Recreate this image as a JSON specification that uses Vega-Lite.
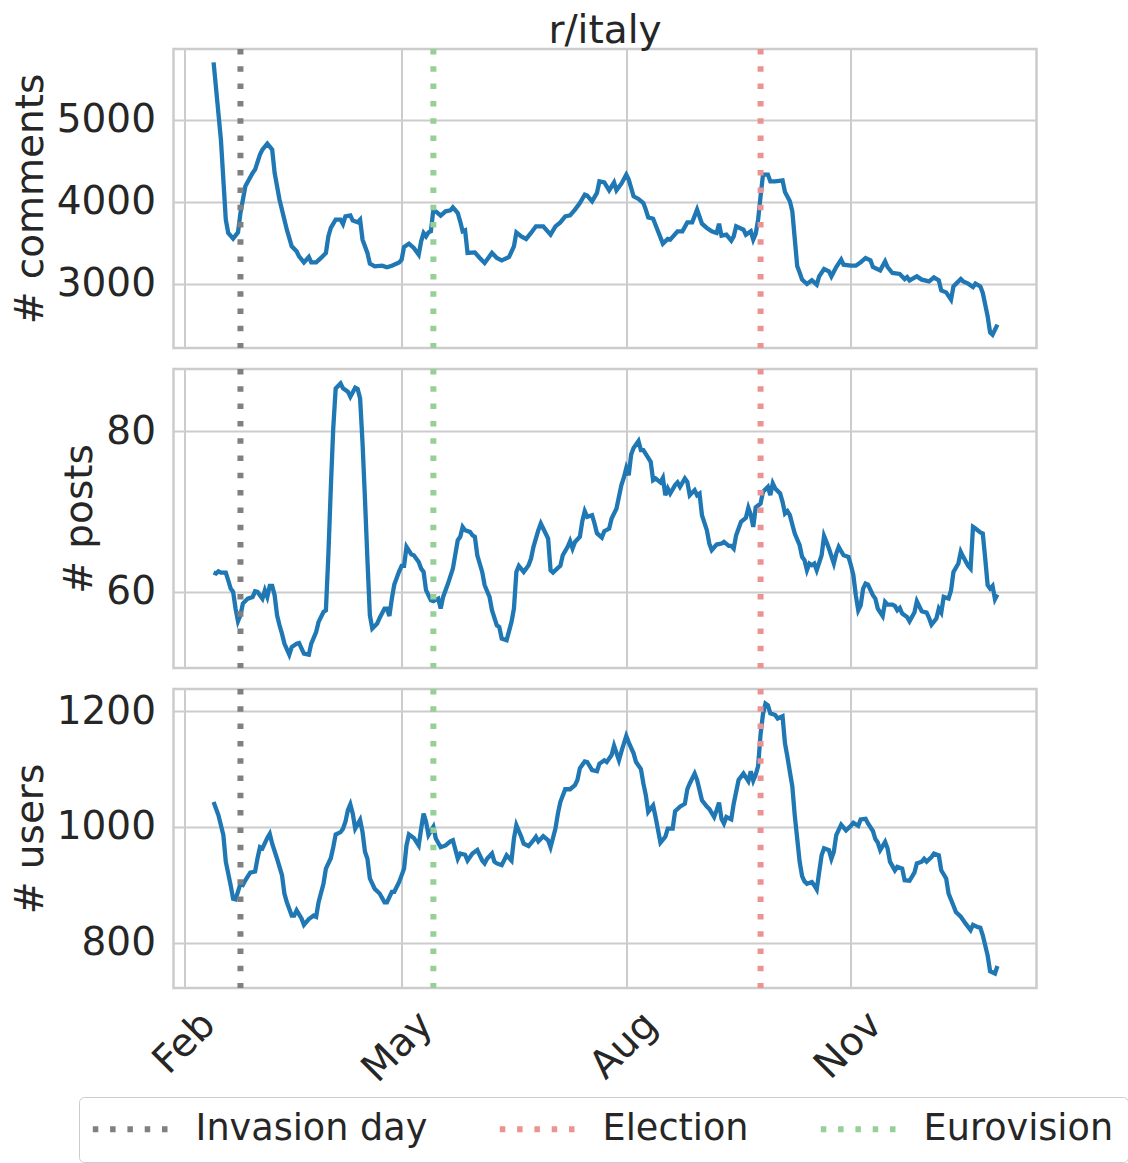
{
  "$schema": "https://vega.github.io/schema/vega-lite/v6.json",
  "background": "white",
  "padding": {"left": 9.5, "top": 10, "right": 0, "bottom": 0},
  "spacing": 11,
  "resolve": {"scale": {"x": "independent", "y": "independent", "color": "shared"}},
  "config": {
    "font": "DejaVu Sans",
    "view": {"stroke": "#cccccc", "strokeWidth": 2.5},
    "axis": {"gridColor": "#cccccc", "gridWidth": 2, "domain": false, "ticks": false, "tickSize": 0,
      "labelFontSize": 39, "labelColor": "#262626", "titleFontSize": 39, "titleColor": "#262626",
      "titleFontWeight": "normal", "labelPadding": 18, "titlePadding": 6, "labelFont": "DejaVu Sans", "titleFont": "DejaVu Sans"},
    "legend": {"orient": "none", "legendX": -94.5, "legendY": 1048, "direction": "horizontal",
      "symbolType": "M-3,0H3", "symbolSize": 625, "symbolStrokeWidth": 6, "symbolDash": [5.5, 11.8], "symbolOpacity": 1, "symbolOffset": 19,
      "labelFontSize": 36.6, "labelColor": "#262626", "labelFont": "DejaVu Sans", "labelOffset": 47, "labelLimit": 600, "columnPadding": 59,
      "strokeColor": "#cccccc", "fillColor": "white", "cornerRadius": 5, "padding": 14}
  },
  "datasets": {
    "events": [
      {"date": "2022-02-24", "event": "Invasion day"},
      {"date": "2022-09-25", "event": "Election"},
      {"date": "2022-05-14", "event": "Eurovision"}
    ],
    "comments": [
      {"date":"2022-02-13","value":5697},{"date":"2022-02-16","value":4757},{"date":"2022-02-18","value":3783},{"date":"2022-02-19","value":3621},{"date":"2022-02-21","value":3552},{"date":"2022-02-23","value":3628},{"date":"2022-02-24","value":3864},{"date":"2022-02-26","value":4189},
      {"date":"2022-03-01","value":4351},{"date":"2022-03-02","value":4392},{"date":"2022-03-04","value":4574},{"date":"2022-03-05","value":4635},{"date":"2022-03-07","value":4708},{"date":"2022-03-09","value":4635},{"date":"2022-03-10","value":4351},{"date":"2022-03-12","value":4026},{"date":"2022-03-15","value":3661},{"date":"2022-03-17","value":3458},{"date":"2022-03-19","value":3397},{"date":"2022-03-20","value":3336},{"date":"2022-03-22","value":3263},{"date":"2022-03-24","value":3329},{"date":"2022-03-25","value":3263},{"date":"2022-03-27","value":3263},{"date":"2022-03-29","value":3317},{"date":"2022-03-31","value":3378},
      {"date":"2022-04-01","value":3580},{"date":"2022-04-02","value":3682},{"date":"2022-04-04","value":3783},{"date":"2022-04-06","value":3783},{"date":"2022-04-07","value":3730},{"date":"2022-04-08","value":3823},{"date":"2022-04-10","value":3835},{"date":"2022-04-11","value":3771},{"date":"2022-04-13","value":3750},{"date":"2022-04-14","value":3783},{"date":"2022-04-15","value":3540},{"date":"2022-04-17","value":3378},{"date":"2022-04-18","value":3248},{"date":"2022-04-20","value":3215},{"date":"2022-04-23","value":3223},{"date":"2022-04-25","value":3203},{"date":"2022-04-27","value":3223},{"date":"2022-04-30","value":3263},
      {"date":"2022-05-01","value":3296},{"date":"2022-05-02","value":3451},{"date":"2022-05-04","value":3491},{"date":"2022-05-06","value":3439},{"date":"2022-05-08","value":3357},{"date":"2022-05-09","value":3519},{"date":"2022-05-10","value":3621},{"date":"2022-05-11","value":3580},{"date":"2022-05-12","value":3628},{"date":"2022-05-13","value":3641},{"date":"2022-05-14","value":3905},{"date":"2022-05-15","value":3884},{"date":"2022-05-17","value":3832},{"date":"2022-05-19","value":3884},{"date":"2022-05-21","value":3896},{"date":"2022-05-22","value":3933},{"date":"2022-05-24","value":3864},{"date":"2022-05-25","value":3760},{"date":"2022-05-26","value":3641},{"date":"2022-05-27","value":3653},{"date":"2022-05-28","value":3378},{"date":"2022-05-31","value":3385},
      {"date":"2022-06-02","value":3317},{"date":"2022-06-04","value":3256},{"date":"2022-06-07","value":3378},{"date":"2022-06-09","value":3317},{"date":"2022-06-11","value":3288},{"date":"2022-06-14","value":3329},{"date":"2022-06-16","value":3458},{"date":"2022-06-17","value":3628},{"date":"2022-06-19","value":3580},{"date":"2022-06-21","value":3548},{"date":"2022-06-23","value":3621},{"date":"2022-06-25","value":3702},{"date":"2022-06-28","value":3702},
      {"date":"2022-07-01","value":3600},{"date":"2022-07-03","value":3702},{"date":"2022-07-05","value":3750},{"date":"2022-07-07","value":3823},{"date":"2022-07-09","value":3835},{"date":"2022-07-11","value":3905},{"date":"2022-07-13","value":3986},{"date":"2022-07-15","value":4087},{"date":"2022-07-16","value":4075},{"date":"2022-07-18","value":4006},{"date":"2022-07-20","value":4108},{"date":"2022-07-21","value":4249},{"date":"2022-07-23","value":4237},{"date":"2022-07-25","value":4140},{"date":"2022-07-27","value":4237},{"date":"2022-07-28","value":4140},{"date":"2022-07-30","value":4221},
      {"date":"2022-08-01","value":4331},{"date":"2022-08-02","value":4270},{"date":"2022-08-04","value":4067},{"date":"2022-08-06","value":4035},{"date":"2022-08-08","value":3986},{"date":"2022-08-09","value":3905},{"date":"2022-08-10","value":3811},{"date":"2022-08-12","value":3795},{"date":"2022-08-14","value":3641},{"date":"2022-08-16","value":3491},{"date":"2022-08-18","value":3548},{"date":"2022-08-19","value":3540},{"date":"2022-08-22","value":3641},{"date":"2022-08-24","value":3641},{"date":"2022-08-26","value":3750},{"date":"2022-08-28","value":3750},{"date":"2022-08-30","value":3905},
      {"date":"2022-09-01","value":3734},{"date":"2022-09-03","value":3682},{"date":"2022-09-05","value":3641},{"date":"2022-09-07","value":3621},{"date":"2022-09-08","value":3734},{"date":"2022-09-09","value":3588},{"date":"2022-09-11","value":3600},{"date":"2022-09-13","value":3527},{"date":"2022-09-14","value":3580},{"date":"2022-09-15","value":3702},{"date":"2022-09-18","value":3661},{"date":"2022-09-19","value":3600},{"date":"2022-09-21","value":3641},{"date":"2022-09-22","value":3540},{"date":"2022-09-23","value":3610},{"date":"2022-09-24","value":3783},{"date":"2022-09-25","value":4067},{"date":"2022-09-26","value":4331},{"date":"2022-09-28","value":4331},{"date":"2022-09-29","value":4249},
      {"date":"2022-10-01","value":4249},{"date":"2022-10-04","value":4262},{"date":"2022-10-05","value":4120},{"date":"2022-10-07","value":4006},{"date":"2022-10-08","value":3884},{"date":"2022-10-09","value":3550},{"date":"2022-10-10","value":3220},{"date":"2022-10-11","value":3140},{"date":"2022-10-12","value":3053},{"date":"2022-10-14","value":3000},{"date":"2022-10-16","value":3044},{"date":"2022-10-18","value":2992},{"date":"2022-10-19","value":3093},{"date":"2022-10-21","value":3183},{"date":"2022-10-23","value":3154},{"date":"2022-10-24","value":3093},{"date":"2022-10-26","value":3207},{"date":"2022-10-28","value":3296},{"date":"2022-10-29","value":3235},
      {"date":"2022-11-01","value":3223},{"date":"2022-11-03","value":3223},{"date":"2022-11-05","value":3263},{"date":"2022-11-07","value":3317},{"date":"2022-11-09","value":3288},{"date":"2022-11-10","value":3207},{"date":"2022-11-13","value":3166},{"date":"2022-11-15","value":3276},{"date":"2022-11-16","value":3207},{"date":"2022-11-18","value":3134},{"date":"2022-11-21","value":3122},{"date":"2022-11-23","value":3061},{"date":"2022-11-24","value":3085},{"date":"2022-11-25","value":3044},{"date":"2022-11-28","value":3093},{"date":"2022-11-30","value":3053},
      {"date":"2022-12-03","value":3032},{"date":"2022-12-05","value":3081},{"date":"2022-12-07","value":3044},{"date":"2022-12-08","value":2922},{"date":"2022-12-10","value":2898},{"date":"2022-12-12","value":2809},{"date":"2022-12-13","value":2971},{"date":"2022-12-16","value":3061},{"date":"2022-12-17","value":3032},{"date":"2022-12-19","value":3004},{"date":"2022-12-21","value":2964},{"date":"2022-12-22","value":3004},{"date":"2022-12-24","value":2971},{"date":"2022-12-25","value":2891},{"date":"2022-12-27","value":2606},{"date":"2022-12-28","value":2411},{"date":"2022-12-29","value":2383},{"date":"2022-12-31","value":2505}
    ],
    "posts": [
      {"date":"2022-02-13","value":62.41},{"date":"2022-02-14","value":62.28},{"date":"2022-02-15","value":62.57},{"date":"2022-02-16","value":62.41},{"date":"2022-02-18","value":62.41},{"date":"2022-02-19","value":61.45},{"date":"2022-02-20","value":60.41},{"date":"2022-02-21","value":60.0},{"date":"2022-02-22","value":57.93},{"date":"2022-02-23","value":56.35},{"date":"2022-02-24","value":57.1},{"date":"2022-02-25","value":58.55},{"date":"2022-02-27","value":59.17},
      {"date":"2022-03-01","value":59.38},{"date":"2022-03-02","value":60.08},{"date":"2022-03-03","value":60.0},{"date":"2022-03-05","value":59.17},{"date":"2022-03-06","value":60.2},{"date":"2022-03-07","value":59.38},{"date":"2022-03-08","value":60.75},{"date":"2022-03-09","value":60.75},{"date":"2022-03-10","value":59.59},{"date":"2022-03-11","value":57.1},{"date":"2022-03-12","value":55.85},{"date":"2022-03-13","value":54.81},{"date":"2022-03-14","value":53.57},{"date":"2022-03-16","value":52.2},{"date":"2022-03-17","value":53.15},{"date":"2022-03-19","value":53.57},{"date":"2022-03-20","value":53.65},{"date":"2022-03-22","value":52.32},{"date":"2022-03-24","value":52.2},{"date":"2022-03-25","value":53.57},{"date":"2022-03-27","value":55.02},{"date":"2022-03-28","value":56.27},{"date":"2022-03-30","value":57.51},{"date":"2022-03-31","value":57.72},
      {"date":"2022-04-01","value":64.56},{"date":"2022-04-02","value":72.86},{"date":"2022-04-03","value":80.33},{"date":"2022-04-04","value":85.31},{"date":"2022-04-06","value":85.93},{"date":"2022-04-07","value":85.31},{"date":"2022-04-09","value":84.9},{"date":"2022-04-10","value":84.27},{"date":"2022-04-12","value":85.39},{"date":"2022-04-13","value":85.23},{"date":"2022-04-14","value":84.07},{"date":"2022-04-15","value":78.5},{"date":"2022-04-16","value":71.5},{"date":"2022-04-17","value":64.0},{"date":"2022-04-18","value":57.1},{"date":"2022-04-19","value":55.44},{"date":"2022-04-21","value":56.06},{"date":"2022-04-22","value":56.76},{"date":"2022-04-24","value":57.93},{"date":"2022-04-25","value":57.93},{"date":"2022-04-26","value":57.01},{"date":"2022-04-27","value":59.17},{"date":"2022-04-28","value":60.91},{"date":"2022-04-30","value":62.57},
      {"date":"2022-05-01","value":63.24},{"date":"2022-05-02","value":63.24},{"date":"2022-05-03","value":65.6},{"date":"2022-05-05","value":64.65},{"date":"2022-05-06","value":64.56},{"date":"2022-05-08","value":63.73},{"date":"2022-05-09","value":62.9},{"date":"2022-05-10","value":62.49},{"date":"2022-05-11","value":60.21},{"date":"2022-05-13","value":58.96},{"date":"2022-05-14","value":58.84},{"date":"2022-05-16","value":59.17},{"date":"2022-05-17","value":57.93},{"date":"2022-05-18","value":59.38},{"date":"2022-05-20","value":61.04},{"date":"2022-05-22","value":62.9},{"date":"2022-05-24","value":66.43},{"date":"2022-05-25","value":66.85},{"date":"2022-05-26","value":68.09},{"date":"2022-05-27","value":67.68},{"date":"2022-05-29","value":67.47},{"date":"2022-05-30","value":67.05},{"date":"2022-05-31","value":66.85},
      {"date":"2022-06-01","value":64.56},{"date":"2022-06-03","value":62.49},{"date":"2022-06-04","value":60.83},{"date":"2022-06-06","value":59.38},{"date":"2022-06-07","value":57.72},{"date":"2022-06-09","value":55.85},{"date":"2022-06-10","value":55.64},{"date":"2022-06-11","value":54.19},{"date":"2022-06-13","value":53.98},{"date":"2022-06-15","value":56.27},{"date":"2022-06-16","value":57.93},{"date":"2022-06-17","value":62.49},{"date":"2022-06-18","value":63.24},{"date":"2022-06-20","value":62.49},{"date":"2022-06-22","value":63.32},{"date":"2022-06-23","value":64.15},{"date":"2022-06-24","value":65.6},{"date":"2022-06-26","value":67.68},{"date":"2022-06-27","value":68.51},{"date":"2022-06-28","value":67.88},{"date":"2022-06-30","value":66.64},
      {"date":"2022-07-01","value":62.7},{"date":"2022-07-02","value":62.41},{"date":"2022-07-04","value":62.99},{"date":"2022-07-05","value":63.24},{"date":"2022-07-06","value":64.56},{"date":"2022-07-08","value":65.6},{"date":"2022-07-09","value":66.31},{"date":"2022-07-10","value":65.39},{"date":"2022-07-11","value":66.22},{"date":"2022-07-13","value":66.85},{"date":"2022-07-14","value":68.8},{"date":"2022-07-15","value":70.04},{"date":"2022-07-16","value":69.34},{"date":"2022-07-18","value":69.54},{"date":"2022-07-19","value":68.51},{"date":"2022-07-20","value":67.3},{"date":"2022-07-22","value":66.76},{"date":"2022-07-23","value":67.55},{"date":"2022-07-25","value":67.88},{"date":"2022-07-26","value":69.13},{"date":"2022-07-28","value":70.37},{"date":"2022-07-30","value":73.3},{"date":"2022-07-31","value":74.2},
      {"date":"2022-08-01","value":75.4},{"date":"2022-08-02","value":74.5},{"date":"2022-08-03","value":77.1},{"date":"2022-08-04","value":77.9},{"date":"2022-08-06","value":78.76},{"date":"2022-08-07","value":77.63},{"date":"2022-08-08","value":77.63},{"date":"2022-08-10","value":76.68},{"date":"2022-08-11","value":76.18},{"date":"2022-08-12","value":73.9},{"date":"2022-08-13","value":74.11},{"date":"2022-08-15","value":73.61},{"date":"2022-08-16","value":74.19},{"date":"2022-08-17","value":72.03},{"date":"2022-08-18","value":72.86},{"date":"2022-08-19","value":72.24},{"date":"2022-08-21","value":73.28},{"date":"2022-08-22","value":73.61},{"date":"2022-08-23","value":73.07},{"date":"2022-08-25","value":74.11},{"date":"2022-08-26","value":73.69},{"date":"2022-08-27","value":72.03},{"date":"2022-08-29","value":72.66},{"date":"2022-08-30","value":72.03},{"date":"2022-08-31","value":72.24},
      {"date":"2022-09-01","value":69.54},{"date":"2022-09-03","value":67.68},{"date":"2022-09-04","value":66.02},{"date":"2022-09-05","value":65.19},{"date":"2022-09-07","value":65.89},{"date":"2022-09-09","value":66.02},{"date":"2022-09-10","value":66.22},{"date":"2022-09-12","value":65.73},{"date":"2022-09-13","value":65.73},{"date":"2022-09-14","value":65.39},{"date":"2022-09-15","value":67.05},{"date":"2022-09-17","value":68.71},{"date":"2022-09-19","value":69.21},{"date":"2022-09-20","value":70.46},{"date":"2022-09-21","value":69.6},{"date":"2022-09-22","value":68.09},{"date":"2022-09-23","value":70.5},{"date":"2022-09-25","value":71.0},{"date":"2022-09-26","value":72.45},{"date":"2022-09-28","value":73.07},{"date":"2022-09-29","value":72.03},{"date":"2022-09-30","value":73.49},
      {"date":"2022-10-01","value":72.86},{"date":"2022-10-03","value":72.24},{"date":"2022-10-04","value":71.2},{"date":"2022-10-05","value":69.75},{"date":"2022-10-06","value":70.04},{"date":"2022-10-07","value":69.54},{"date":"2022-10-08","value":68.38},{"date":"2022-10-09","value":67.26},{"date":"2022-10-11","value":65.81},{"date":"2022-10-12","value":64.36},{"date":"2022-10-13","value":63.94},{"date":"2022-10-14","value":62.7},{"date":"2022-10-15","value":63.53},{"date":"2022-10-16","value":63.32},{"date":"2022-10-17","value":63.53},{"date":"2022-10-18","value":62.7},{"date":"2022-10-20","value":64.56},{"date":"2022-10-21","value":66.97},{"date":"2022-10-22","value":66.22},{"date":"2022-10-23","value":65.39},{"date":"2022-10-25","value":63.53},{"date":"2022-10-26","value":64.77},{"date":"2022-10-27","value":65.6},{"date":"2022-10-28","value":65.06},{"date":"2022-10-29","value":64.56},{"date":"2022-10-31","value":64.36},
      {"date":"2022-11-01","value":63.32},{"date":"2022-11-02","value":62.08},{"date":"2022-11-03","value":59.59},{"date":"2022-11-04","value":57.72},{"date":"2022-11-05","value":58.34},{"date":"2022-11-06","value":60.41},{"date":"2022-11-07","value":61.04},{"date":"2022-11-08","value":60.91},{"date":"2022-11-10","value":59.59},{"date":"2022-11-11","value":59.17},{"date":"2022-11-12","value":57.93},{"date":"2022-11-14","value":57.01},{"date":"2022-11-15","value":58.76},{"date":"2022-11-16","value":58.42},{"date":"2022-11-18","value":58.42},{"date":"2022-11-19","value":58.26},{"date":"2022-11-20","value":57.72},{"date":"2022-11-21","value":58.0},{"date":"2022-11-22","value":57.3},{"date":"2022-11-24","value":56.89},{"date":"2022-11-25","value":56.35},{"date":"2022-11-27","value":57.43},{"date":"2022-11-28","value":58.84},{"date":"2022-11-30","value":57.6},
      {"date":"2022-12-02","value":57.43},{"date":"2022-12-03","value":56.76},{"date":"2022-12-04","value":55.93},{"date":"2022-12-06","value":56.68},{"date":"2022-12-07","value":57.93},{"date":"2022-12-08","value":57.43},{"date":"2022-12-09","value":59.38},{"date":"2022-12-11","value":59.17},{"date":"2022-12-12","value":60.21},{"date":"2022-12-13","value":62.49},{"date":"2022-12-15","value":63.53},{"date":"2022-12-16","value":64.98},{"date":"2022-12-17","value":64.36},{"date":"2022-12-19","value":63.24},{"date":"2022-12-20","value":62.9},{"date":"2022-12-21","value":68.09},{"date":"2022-12-22","value":67.88},{"date":"2022-12-24","value":67.39},{"date":"2022-12-25","value":67.26},{"date":"2022-12-26","value":64.15},{"date":"2022-12-27","value":60.83},{"date":"2022-12-28","value":60.41},{"date":"2022-12-29","value":60.75},{"date":"2022-12-30","value":59.09},{"date":"2022-12-31","value":59.67}
    ],
    "users": [
      {"date":"2022-02-13","value":1043},{"date":"2022-02-15","value":1020},{"date":"2022-02-17","value":986},{"date":"2022-02-18","value":940},{"date":"2022-02-20","value":899},{"date":"2022-02-21","value":876},{"date":"2022-02-22","value":875},{"date":"2022-02-24","value":902},{"date":"2022-02-25","value":900},{"date":"2022-02-26","value":908},{"date":"2022-02-28","value":921},
      {"date":"2022-03-02","value":923},{"date":"2022-03-03","value":946},{"date":"2022-03-04","value":965},{"date":"2022-03-05","value":963},{"date":"2022-03-07","value":981},{"date":"2022-03-08","value":988},{"date":"2022-03-09","value":971},{"date":"2022-03-11","value":945},{"date":"2022-03-13","value":917},{"date":"2022-03-14","value":885},{"date":"2022-03-15","value":870},{"date":"2022-03-17","value":847},{"date":"2022-03-18","value":847},{"date":"2022-03-19","value":856},{"date":"2022-03-21","value":842},{"date":"2022-03-22","value":831},{"date":"2022-03-24","value":841},{"date":"2022-03-26","value":847},{"date":"2022-03-27","value":845},{"date":"2022-03-28","value":870},{"date":"2022-03-30","value":902},{"date":"2022-03-31","value":928},
      {"date":"2022-04-02","value":946},{"date":"2022-04-03","value":965},{"date":"2022-04-04","value":987},{"date":"2022-04-06","value":991},{"date":"2022-04-07","value":997},{"date":"2022-04-08","value":1009},{"date":"2022-04-09","value":1029},{"date":"2022-04-10","value":1039},{"date":"2022-04-11","value":1023},{"date":"2022-04-12","value":997},{"date":"2022-04-14","value":1012},{"date":"2022-04-15","value":991},{"date":"2022-04-16","value":957},{"date":"2022-04-17","value":945},{"date":"2022-04-18","value":911},{"date":"2022-04-20","value":893},{"date":"2022-04-22","value":885},{"date":"2022-04-24","value":870},{"date":"2022-04-25","value":870},{"date":"2022-04-27","value":888},{"date":"2022-04-28","value":888},{"date":"2022-04-30","value":905},
      {"date":"2022-05-02","value":928},{"date":"2022-05-03","value":968},{"date":"2022-05-04","value":987},{"date":"2022-05-06","value":981},{"date":"2022-05-08","value":968},{"date":"2022-05-09","value":997},{"date":"2022-05-10","value":1023},{"date":"2022-05-11","value":1009},{"date":"2022-05-12","value":986},{"date":"2022-05-14","value":1000},{"date":"2022-05-15","value":980},{"date":"2022-05-17","value":965},{"date":"2022-05-19","value":968},{"date":"2022-05-21","value":975},{"date":"2022-05-22","value":977},{"date":"2022-05-24","value":945},{"date":"2022-05-25","value":954},{"date":"2022-05-27","value":952},{"date":"2022-05-28","value":942},{"date":"2022-05-30","value":954},
      {"date":"2022-06-01","value":960},{"date":"2022-06-03","value":942},{"date":"2022-06-04","value":937},{"date":"2022-06-05","value":945},{"date":"2022-06-07","value":954},{"date":"2022-06-08","value":940},{"date":"2022-06-09","value":937},{"date":"2022-06-11","value":934},{"date":"2022-06-13","value":951},{"date":"2022-06-15","value":942},{"date":"2022-06-16","value":980},{"date":"2022-06-17","value":1003},{"date":"2022-06-19","value":983},{"date":"2022-06-20","value":971},{"date":"2022-06-22","value":967},{"date":"2022-06-24","value":977},{"date":"2022-06-25","value":983},{"date":"2022-06-26","value":975},{"date":"2022-06-28","value":984},{"date":"2022-06-30","value":977},
      {"date":"2022-07-01","value":965},{"date":"2022-07-03","value":997},{"date":"2022-07-04","value":1023},{"date":"2022-07-05","value":1043},{"date":"2022-07-07","value":1065},{"date":"2022-07-09","value":1065},{"date":"2022-07-11","value":1072},{"date":"2022-07-12","value":1081},{"date":"2022-07-13","value":1101},{"date":"2022-07-15","value":1113},{"date":"2022-07-16","value":1112},{"date":"2022-07-18","value":1098},{"date":"2022-07-20","value":1096},{"date":"2022-07-21","value":1109},{"date":"2022-07-23","value":1115},{"date":"2022-07-24","value":1112},{"date":"2022-07-26","value":1124},{"date":"2022-07-27","value":1140},{"date":"2022-07-29","value":1115},{"date":"2022-07-30","value":1130},
      {"date":"2022-08-01","value":1157},{"date":"2022-08-02","value":1146},{"date":"2022-08-04","value":1127},{"date":"2022-08-05","value":1112},{"date":"2022-08-07","value":1100},{"date":"2022-08-08","value":1075},{"date":"2022-08-09","value":1055},{"date":"2022-08-10","value":1026},{"date":"2022-08-12","value":1037},{"date":"2022-08-13","value":1017},{"date":"2022-08-15","value":973},{"date":"2022-08-17","value":983},{"date":"2022-08-18","value":997},{"date":"2022-08-20","value":997},{"date":"2022-08-21","value":1027},{"date":"2022-08-23","value":1035},{"date":"2022-08-25","value":1040},{"date":"2022-08-26","value":1065},{"date":"2022-08-27","value":1075},{"date":"2022-08-29","value":1092},{"date":"2022-08-30","value":1081},
      {"date":"2022-09-01","value":1046},{"date":"2022-09-03","value":1035},{"date":"2022-09-04","value":1031},{"date":"2022-09-06","value":1017},{"date":"2022-09-07","value":1029},{"date":"2022-09-08","value":1042},{"date":"2022-09-09","value":1014},{"date":"2022-09-10","value":1006},{"date":"2022-09-11","value":1017},{"date":"2022-09-13","value":1013},{"date":"2022-09-14","value":1040},{"date":"2022-09-16","value":1081},{"date":"2022-09-18","value":1092},{"date":"2022-09-20","value":1079},{"date":"2022-09-21","value":1096},{"date":"2022-09-22","value":1080},{"date":"2022-09-23","value":1090},{"date":"2022-09-24","value":1105},{"date":"2022-09-25","value":1160},{"date":"2022-09-26","value":1195},{"date":"2022-09-27","value":1213},{"date":"2022-09-28","value":1210},{"date":"2022-09-29","value":1196},
      {"date":"2022-10-01","value":1193},{"date":"2022-10-02","value":1187},{"date":"2022-10-04","value":1191},{"date":"2022-10-05","value":1144},{"date":"2022-10-06","value":1121},{"date":"2022-10-07","value":1095},{"date":"2022-10-08","value":1070},{"date":"2022-10-09","value":1020},{"date":"2022-10-10","value":980},{"date":"2022-10-11","value":940},{"date":"2022-10-12","value":915},{"date":"2022-10-13","value":906},{"date":"2022-10-14","value":902},{"date":"2022-10-16","value":905},{"date":"2022-10-17","value":899},{"date":"2022-10-18","value":892},{"date":"2022-10-19","value":922},{"date":"2022-10-20","value":951},{"date":"2022-10-21","value":963},{"date":"2022-10-23","value":960},{"date":"2022-10-24","value":945},{"date":"2022-10-25","value":957},{"date":"2022-10-26","value":986},{"date":"2022-10-28","value":1004},{"date":"2022-10-30","value":994},
      {"date":"2022-11-01","value":1002},{"date":"2022-11-02","value":1007},{"date":"2022-11-04","value":1002},{"date":"2022-11-05","value":1013},{"date":"2022-11-07","value":1014},{"date":"2022-11-08","value":1006},{"date":"2022-11-10","value":993},{"date":"2022-11-11","value":979},{"date":"2022-11-12","value":973},{"date":"2022-11-13","value":960},{"date":"2022-11-15","value":974},{"date":"2022-11-16","value":963},{"date":"2022-11-17","value":940},{"date":"2022-11-19","value":925},{"date":"2022-11-20","value":931},{"date":"2022-11-22","value":928},{"date":"2022-11-23","value":908},{"date":"2022-11-25","value":907},{"date":"2022-11-27","value":921},{"date":"2022-11-28","value":937},{"date":"2022-11-30","value":940},
      {"date":"2022-12-01","value":945},{"date":"2022-12-02","value":940},{"date":"2022-12-04","value":948},{"date":"2022-12-05","value":954},{"date":"2022-12-07","value":951},{"date":"2022-12-08","value":925},{"date":"2022-12-10","value":911},{"date":"2022-12-11","value":885},{"date":"2022-12-13","value":864},{"date":"2022-12-14","value":853},{"date":"2022-12-16","value":845},{"date":"2022-12-18","value":833},{"date":"2022-12-20","value":822},{"date":"2022-12-21","value":831},{"date":"2022-12-23","value":827},{"date":"2022-12-24","value":826},{"date":"2022-12-25","value":813},{"date":"2022-12-27","value":778},{"date":"2022-12-28","value":751},{"date":"2022-12-30","value":747},{"date":"2022-12-31","value":760}
    ]
  },
  "vconcat": [
    {
      "width": 863, "height": 299,
      "title": {"text": "r/italy", "fontSize": 39, "fontWeight": "normal", "color": "#262626", "font": "DejaVu Sans", "anchor": "middle", "frame": "group", "baseline": "alphabetic", "offset": -36},
      "layer": [
        {"data": {"name": "comments"}, "mark": {"type": "line", "color": "#1f77b4", "strokeWidth": 4.3},
         "encoding": {
           "x": {"field": "date", "type": "temporal", "scale": {"domain": [{"year": 2022, "month": 1, "date": 27, "hours": 14}, {"year": 2023, "month": 1, "date": 16}]},
                 "axis": {"title": null, "labels": false, "values": [{"year": 2022, "month": 2, "date": 1}, {"year": 2022, "month": 5, "date": 1}, {"year": 2022, "month": 8, "date": 1}, {"year": 2022, "month": 11, "date": 1}]}},
           "y": {"field": "value", "type": "quantitative", "scale": {"domain": [2221, 5860], "zero": false, "nice": false}, "axis": {"title": "# comments", "values": [3000, 4000, 5000], "format": "d"}}
         }},
        {"data": {"name": "events"}, "mark": {"type": "rule", "strokeWidth": 6, "strokeDash": [5.5, 11.8]},
         "encoding": {
           "x": {"field": "date", "type": "temporal"},
           "color": {"field": "event", "type": "nominal", "title": null, "scale": {"domain": ["Invasion day", "Election", "Eurovision"], "range": ["#808080", "#eb9393", "#96d096"]}}
         }}
      ]
    },
    {
      "width": 863, "height": 299,
      "layer": [
        {"data": {"name": "posts"}, "mark": {"type": "line", "color": "#1f77b4", "strokeWidth": 4.3},
         "encoding": {
           "x": {"field": "date", "type": "temporal", "scale": {"domain": [{"year": 2022, "month": 1, "date": 27, "hours": 14}, {"year": 2023, "month": 1, "date": 16}]},
                 "axis": {"title": null, "labels": false, "values": [{"year": 2022, "month": 2, "date": 1}, {"year": 2022, "month": 5, "date": 1}, {"year": 2022, "month": 8, "date": 1}, {"year": 2022, "month": 11, "date": 1}]}},
           "y": {"field": "value", "type": "quantitative", "scale": {"domain": [50.54, 87.72], "zero": false, "nice": false}, "axis": {"title": "# posts", "values": [60, 80], "format": "d"}}
         }},
        {"data": {"name": "events"}, "mark": {"type": "rule", "strokeWidth": 6, "strokeDash": [5.5, 11.8]},
         "encoding": {
           "x": {"field": "date", "type": "temporal"},
           "color": {"field": "event", "type": "nominal", "title": null, "scale": {"domain": ["Invasion day", "Election", "Eurovision"], "range": ["#808080", "#eb9393", "#96d096"]}}
         }}
      ]
    },
    {
      "width": 863, "height": 299,
      "layer": [
        {"data": {"name": "users"}, "mark": {"type": "line", "color": "#1f77b4", "strokeWidth": 4.3},
         "encoding": {
           "x": {"field": "date", "type": "temporal", "scale": {"domain": [{"year": 2022, "month": 1, "date": 27, "hours": 14}, {"year": 2023, "month": 1, "date": 16}]},
                 "axis": {"title": null, "format": "%b", "labelAngle": -45, "labelAlign": "right", "labelBaseline": "middle", "labelOffset": 24, "labelPadding": 30, "values": [{"year": 2022, "month": 2, "date": 1}, {"year": 2022, "month": 5, "date": 1}, {"year": 2022, "month": 8, "date": 1}, {"year": 2022, "month": 11, "date": 1}]}},
           "y": {"field": "value", "type": "quantitative", "scale": {"domain": [722, 1238], "zero": false, "nice": false}, "axis": {"title": "# users", "values": [800, 1000, 1200], "format": "d"}}
         }},
        {"data": {"name": "events"}, "mark": {"type": "rule", "strokeWidth": 6, "strokeDash": [5.5, 11.8]},
         "encoding": {
           "x": {"field": "date", "type": "temporal"},
           "color": {"field": "event", "type": "nominal", "title": null, "scale": {"domain": ["Invasion day", "Election", "Eurovision"], "range": ["#808080", "#eb9393", "#96d096"]}}
         }}
      ]
    }
  ]
}
